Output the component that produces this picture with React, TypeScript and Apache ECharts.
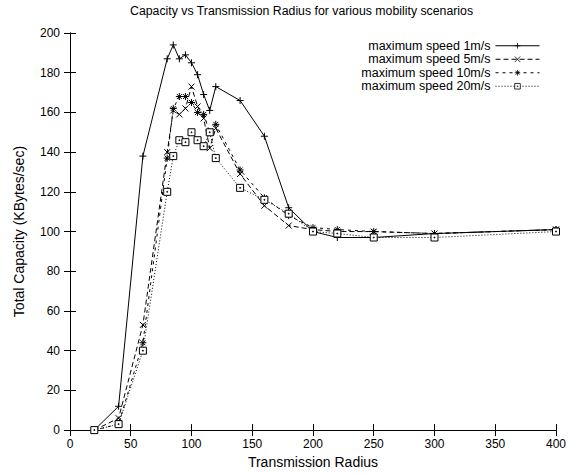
import React, { useEffect, useRef } from "react";
import * as echarts from "echarts";

const radius = [20, 40, 60, 80, 85, 90, 95, 100, 105, 110, 115, 120, 140, 160, 180, 200, 220, 250, 300, 400];
const speed1 = [0, 12, 138, 187, 194, 187, 189, 185, 179, 169, 161, 173, 166, 148, 112, 100, 97, 97, 99, 101];
const speed5 = [0, 6, 53, 140, 161, 159, 162, 173, 163, 157, 142, 152, 129, 113, 103, 101, 100, 100, 99, 101];
const speed10 = [0, 3, 44, 137, 162, 168, 168, 165, 160, 159, 150, 154, 131, 117, 108, 102, 101, 100, 99, 101];
const speed20 = [0, 3, 40, 120, 138, 146, 145, 150, 146, 143, 150, 137, 122, 116, 109, 100, 99, 97, 97, 100];

const seriesNames = ["maximum speed 1m/s", "maximum speed 5m/s", "maximum speed 10m/s", "maximum speed 20m/s"];
const xTicks = { min: 0, max: 400, interval: 50 };
const yTicks = { min: 0, max: 200, interval: 20 };

const FONT = "'Liberation Sans', Arial, Helvetica, sans-serif";

const plusSym = "path://M0,-5V5M-5,0H5";
const crossSym = "path://M-5,-5L5,5M-5,5L5,-5";
const starSym = "path://M0,-5V5M-5,0H5M-3.5,-3.5L3.5,3.5M-3.5,3.5L3.5,-3.5";
const boxSym = "path://M-5,-5H5V5H-5ZM-0.6,-0.6H0.6V0.6H-0.6Z";

export default function App() {
  const ref = useRef<HTMLDivElement>(null);
  useEffect(() => {
    if (!ref.current) return;
    const chart = echarts.init(ref.current, undefined, { renderer: "svg" });
    const pairs = (vals: number[]) => radius.map((r, i) => [r, vals[i]]);
    const mk = (name: string, vals: number[], sym: string, size: number, dash: any) => ({
      name,
      type: "line",
      data: pairs(vals),
      symbol: sym,
      symbolSize: size,
      showSymbol: true,
      lineStyle: { color: "#000", width: 1, type: dash },
      itemStyle: { color: "#fff", borderColor: "#000", borderWidth: 1 },
      emphasis: { disabled: true },
    });
    const axisCommon = {
      axisLine: { show: true, lineStyle: { color: "#000", width: 1 } },
      axisTick: { show: true, inside: true, length: 6, lineStyle: { color: "#000" } },
      splitLine: { show: false },
    };
    chart.setOption({
      animation: false,
      backgroundColor: "#fff",
      title: {
        text: "Capacity vs Transmission Radius for various mobility scenarios",
        left: 130,
        top: 5,
        padding: 0,
        textStyle: { fontFamily: FONT, fontSize: 12.3, fontWeight: "normal", color: "#000" },
      },
      legend: {
        orient: "vertical",
        align: "right",
        right: 29,
        top: 39,
        padding: 0,
        itemWidth: 44,
        itemHeight: 7,
        itemGap: 0,
        lineStyle: { width: 1 },
        itemStyle: { borderWidth: 0.8 },
        textStyle: { fontFamily: FONT, fontSize: 12.5, color: "#000", lineHeight: 13.5 },
        data: seriesNames,
      },
      grid: { left: 70, right: 11, top: 33, bottom: 42, containLabel: false },
      xAxis: [
        {
          type: "value",
          position: "bottom",
          ...xTicks,
          ...axisCommon,
          name: "Transmission Radius",
          nameLocation: "middle",
          nameGap: 22,
          nameTextStyle: { fontFamily: FONT, fontSize: 14, color: "#000" },
          axisLabel: { fontFamily: FONT, fontSize: 12, color: "#000", margin: 8 },
        },
        {
          type: "value",
          position: "top",
          ...xTicks,
          ...axisCommon,
          axisLabel: { show: false },
        },
      ],
      yAxis: [
        {
          type: "value",
          position: "left",
          ...yTicks,
          ...axisCommon,
          name: "Total Capacity (KBytes/sec)",
          nameLocation: "middle",
          nameGap: 44,
          nameTextStyle: { fontFamily: FONT, fontSize: 14, color: "#000" },
          axisLabel: { fontFamily: FONT, fontSize: 12, color: "#000", margin: 10 },
        },
        {
          type: "value",
          position: "right",
          ...yTicks,
          ...axisCommon,
          axisLabel: { show: false },
        },
      ],
      series: [
        mk(seriesNames[0], speed1, plusSym, 7, "solid"),
        mk(seriesNames[1], speed5, crossSym, 6, [5, 3]),
        mk(seriesNames[2], speed10, starSym, 7, [3, 4]),
        mk(seriesNames[3], speed20, boxSym, 7, [1, 2]),
      ],
    });
    return () => chart.dispose();
  }, []);
  return <div ref={ref} style={{ position: "fixed", left: 0, top: 0, width: 569, height: 474, background: "#fff" }} />;
}
